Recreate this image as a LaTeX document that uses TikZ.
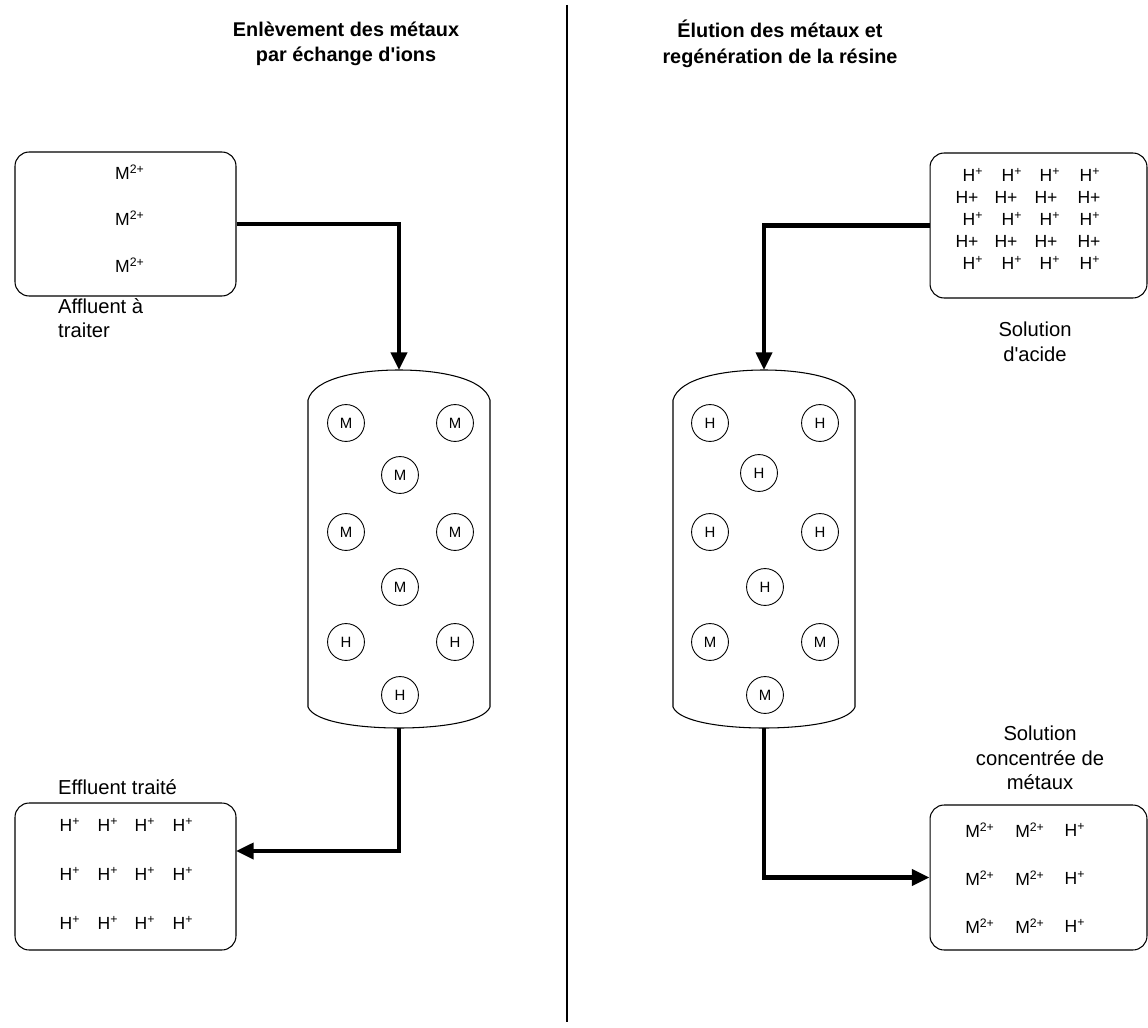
\documentclass[tikz,border=0pt]{standalone}
\usepackage{fontspec}
\setmainfont{Liberation Sans}
\usetikzlibrary{arrows.meta}

\begin{document}
\begin{tikzpicture}[x=0.02cm, y=-0.02cm,
  ionbox/.style={draw, line width=0.6pt, rounded corners=8pt, inner sep=0pt},
  bead/.style={draw, circle, line width=0.5pt, minimum size=21pt, inner sep=0pt, font=\fontsize{8.5}{10}\selectfont},
  flow/.style={line width=2.3pt, -{Triangle[length=10pt, width=9pt]}},
  caption/.style={font=\fontsize{11.5}{14}\selectfont, align=center},
  ion/.style={font=\fontsize{10}{12}\selectfont, inner sep=0pt}]

\useasboundingbox (0,0) rectangle (1148,1027);

% Divider
\draw[line width=0.9pt] (567,5) -- (567,1022);

% Titles
\node[caption, font=\fontsize{11.3}{14.5}\selectfont\bfseries] (titleL) at (346,44)
  {Enlèvement des métaux\\par échange d\textquotesingle ions};
\node[caption, font=\fontsize{11.3}{14.5}\selectfont\bfseries] (titleR) at (780,44)
  {Élution des métaux et\\regénération de la résine};

% Boxes
\node[ionbox, minimum width=4.42cm, minimum height=2.88cm] (affluent) at (125.5,224) {};
\node[ionbox, minimum width=4.42cm, minimum height=2.94cm] (effluent) at (125.5,876.5) {};
\node[ionbox, minimum width=4.34cm, minimum height=2.9cm] (acide) at (1038.5,225.5) {};
\node[ionbox, minimum width=4.34cm, minimum height=2.9cm] (concentre) at (1038.5,877.5) {};

% Box contents
\foreach \y in {172,218,265}
  \node[ion] at (130,\y) {M\textsuperscript{2+}};
\foreach \y in {825,874,923}
  \foreach \x in {70,108,145,183}
    \node[ion] at (\x,\y) {H\textsuperscript{+}};
\foreach \y in {175,219,263}
  \foreach \x in {973,1012,1050,1090}
    \node[ion] at (\x,\y) {H\textsuperscript{+}};
\foreach \y in {197,241}
  \foreach \x in {967,1006,1046,1089}
    \node[ion] at (\x,\y) {H+};
\foreach \y in {830,878,926} {
  \node[ion] at (980,\y) {M\textsuperscript{2+}};
  \node[ion] at (1030,\y) {M\textsuperscript{2+}};
  \node[ion] at (1075,\y) {H\textsuperscript{+}};
}

% Labels
\node[caption, align=left, anchor=west] (lblA) at (52,318) {Affluent à\\traiter};
\node[caption, anchor=west] (lblB) at (52,787) {Effluent traité};
\node[caption] (lblC) at (1035,342) {Solution\\d\textquotesingle acide};
\node[caption] (lblD) at (1040,758) {Solution\\concentrée de\\métaux};

% Columns
\foreach \cx/\nm in {399/L, 764/R} {
  \draw[line width=0.6pt] ({\cx-91},400) -- ({\cx-91},707)
    .. controls ({\cx-85},722) and ({\cx-40},728) .. (\cx,728)
    .. controls ({\cx+40},728) and ({\cx+85},722) .. ({\cx+91},707)
    -- ({\cx+91},400)
    .. controls ({\cx+85},378) and ({\cx+40},370) .. (\cx,370)
    .. controls ({\cx-40},370) and ({\cx-85},378) .. ({\cx-91},400) -- cycle;
  \coordinate (\nm-top) at (\cx,370);
  \coordinate (\nm-bot) at (\cx,728);
}

% Resin beads
\foreach [count=\i] \x/\y/\t in {346/423/M, 455/423/M, 400/475/M, 346/532/M, 455/532/M,
    400/587/M, 346/642/H, 455/642/H, 400/695/H}
  \node[bead] (bL\i) at (\x,\y) {\t};
\foreach [count=\i] \x/\y/\t in {710/423/H, 820/423/H, 759/473/H, 710/532/H, 820/532/H,
    765/587/H, 710/642/M, 820/642/M, 765/695/M}
  \node[bead] (bR\i) at (\x,\y) {\t};

% Flows
\coordinate (inB) at (236,851);
\draw[flow] (affluent.east) -| (L-top);
\draw[flow] (L-bot) |- (inB);
\draw[flow] (acide.west) -| (R-top);
\draw[flow] (R-bot) |- (concentre.west);

\end{tikzpicture}
\end{document}
